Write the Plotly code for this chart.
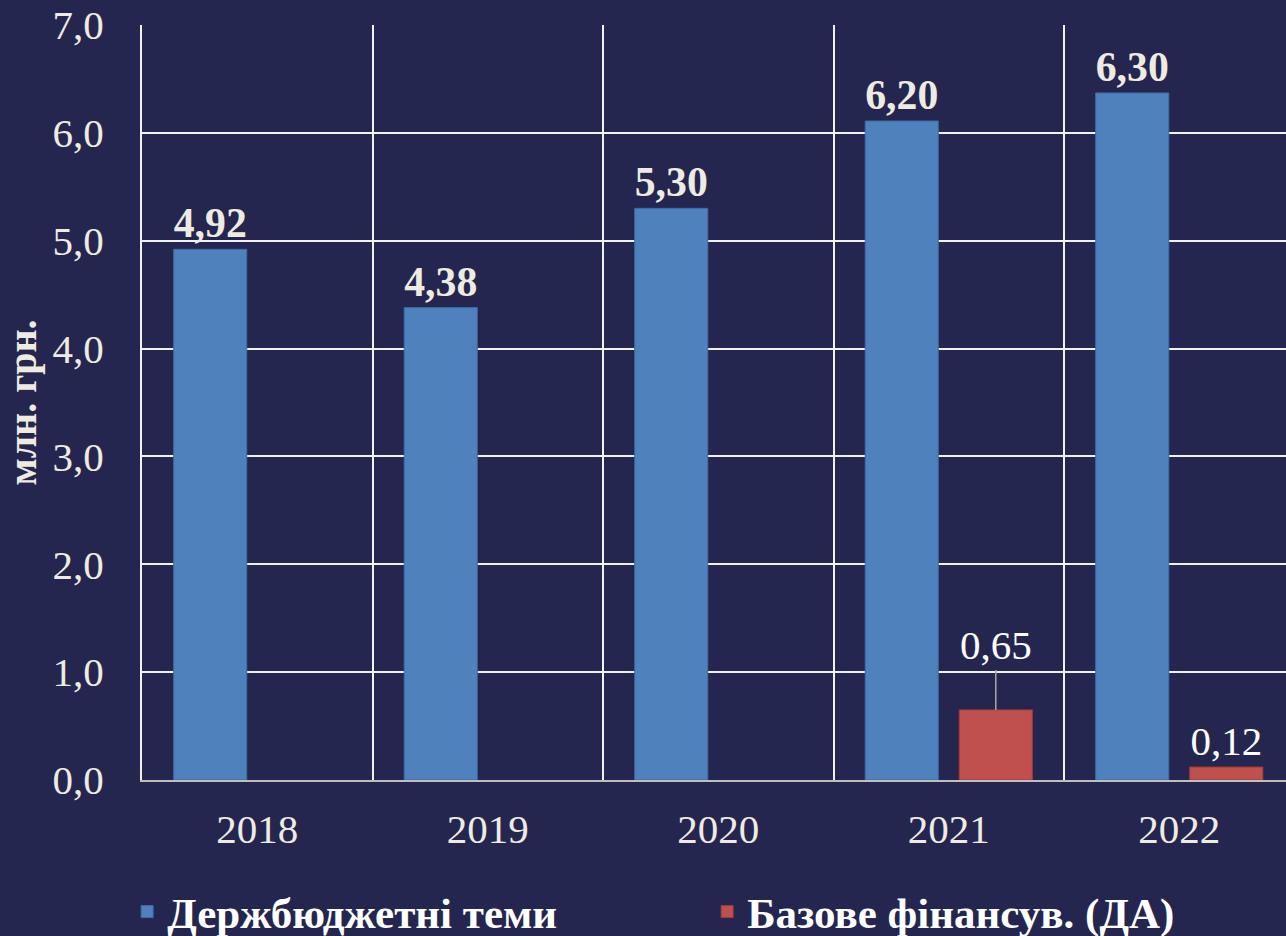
import plotly.graph_objects as go

years = ["2018", "2019", "2020", "2021", "2022"]
budget_vals = [4.92, 4.38, 5.30, 6.11, 6.37]
budget_labels = ["4,92", "4,38", "5,30", "6,20", "6,30"]
base_vals = [None, None, None, 0.65, 0.12]
base_labels = ["", "", "", "", "0,12"]
lead_label_year = "2021"
lead_label_text = "0,65"
lead_label_value = 0.65

BG = "#25264f"
TXT = "#eeece1"
FONT = "Liberation Serif"

fig = go.Figure()
fig.add_trace(go.Bar(
    x=years, y=budget_vals, name="<b>Держбюджетні теми</b>", legend="legend",
    marker=dict(color="#4f81bd", line=dict(color="#3e6ca3", width=1)),
    text=budget_labels, textposition="outside", cliponaxis=False,
    textfont=dict(family=FONT, size=42, color=TXT, weight="bold"),
))
fig.add_trace(go.Bar(
    x=years, y=base_vals, name="<b>Базове фінансув. (ДА)</b>", legend="legend2",
    marker=dict(color="#c0504d", line=dict(color="#9c3f3d", width=1)),
    text=base_labels, textposition="outside", cliponaxis=False,
    textfont=dict(family=FONT, size=41, color="#ffffff"),
))

bargap = 0.184
slot = (1 - bargap) / 2
fig.add_annotation(
    x=years.index(lead_label_year) + slot / 2, y=lead_label_value, xref="x", yref="y",
    text=lead_label_text, showarrow=True, arrowhead=0, arrowwidth=1.5,
    arrowcolor="#a6a6a6", ax=0, ay=-40, yanchor="bottom",
    font=dict(family=FONT, size=41, color="#ffffff"),
)

leg_common = dict(orientation="h", xanchor="left", yref="container", y=0.026,
                  yanchor="middle",
                  font=dict(family=FONT, size=43, color="#ffffff"),
                  bgcolor="rgba(0,0,0,0)")
fig.update_layout(
    width=1286, height=936,
    paper_bgcolor=BG, plot_bgcolor=BG,
    margin=dict(l=142, r=0, t=25, b=156),
    barmode="group", bargap=bargap, bargroupgap=0.223,
    separators=", ",
    font=dict(family=FONT, color=TXT, size=41),
    showlegend=True,
    legend=dict(x=-0.013, **leg_common),
    legend2=dict(x=0.494, **leg_common),
    xaxis=dict(type="category", tickson="boundaries", showgrid=True,
               gridcolor="#f2f2f2", gridwidth=2, ticks="",
               range=[-0.5, 4.463], showline=True, linecolor="#bfbfbf", linewidth=2,
               tickfont=dict(family=FONT, size=41, color=TXT), ticklabelstandoff=12),
    yaxis=dict(range=[0, 7], dtick=1, tickformat=".1f", showgrid=True,
               gridcolor="#f2f2f2", gridwidth=2, zeroline=False,
               showline=True, linecolor="#f2f2f2", linewidth=2,
               tickfont=dict(family=FONT, size=41, color=TXT), ticklabelstandoff=28,
               title=dict(text="<b>млн. грн.</b>", standoff=6,
                          font=dict(family=FONT, size=40, color=TXT))),
)

fig.write_html("out.html", config={"displayModeBar": False},
               post_script="document.body.style.margin='0';document.body.style.overflow='hidden';")
